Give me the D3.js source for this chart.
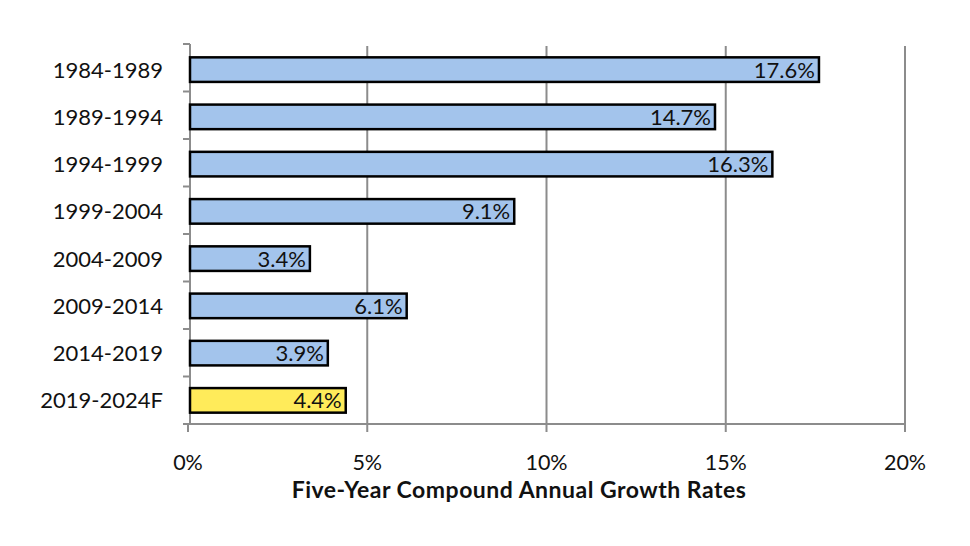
<!DOCTYPE html>
<html>
<head>
<meta charset="utf-8">
<script src="https://cdn.jsdelivr.net/npm/d3@7"></script>
<style>
  body { margin: 0; background: #fff; }
  text { font-family: Lato, "Open Sans", sans-serif; fill: #111; }
</style>
</head>
<body>
<div id="chart"></div>
<script>
var periods = ["1984-1989", "1989-1994", "1994-1999", "1999-2004", "2004-2009", "2009-2014", "2014-2019", "2019-2024F"];
var rates = [17.6, 14.7, 16.3, 9.1, 3.4, 6.1, 3.9, 4.4];
var ticks = [0, 5, 10, 15, 20];
var forecast = "2019-2024F";

var width = 970, height = 546;
var mLeft = 188, mRight = 905, mTop = 46, mBottom = 424;

var svg = d3.select("#chart").append("svg")
    .attr("width", width)
    .attr("height", height);

var x = d3.scaleLinear().domain([0, 20]).range([mLeft, mRight]);
var y = d3.scaleBand().domain(periods).range([mTop, mBottom]).paddingInner(0.48).paddingOuter(0.24);

// gridlines
svg.selectAll(".grid").data(ticks.slice(1)).enter().append("line")
    .attr("x1", function(d){ return x(d); })
    .attr("x2", function(d){ return x(d); })
    .attr("y1", mTop)
    .attr("y2", mBottom + 8)
    .style("stroke", "#8c8c8c")
    .style("stroke-width", 2);

// x axis line + ticks
svg.append("line")
    .attr("x1", mLeft).attr("x2", mRight)
    .attr("y1", mBottom).attr("y2", mBottom)
    .style("stroke", "#8c8c8c").style("stroke-width", 2);
svg.append("line")
    .attr("x1", x(0)).attr("x2", x(0))
    .attr("y1", mBottom).attr("y2", mBottom + 8)
    .style("stroke", "#8c8c8c").style("stroke-width", 2);

svg.selectAll(".xt").data(ticks).enter().append("text")
    .attr("x", function(d){ return x(d); })
    .attr("y", mBottom + 46)
    .attr("text-anchor", "middle")
    .style("font-size", "21.5px")
    .text(function(d){ return d + "%"; });

// axis title sits a bit left of the plot centre, as in the source
svg.append("text")
    .attr("x", 519)
    .attr("y", mBottom + 74)
    .attr("text-anchor", "middle")
    .style("font-size", "23px")
    .style("font-weight", "bold")
    .style("letter-spacing", "0.5px")
    .text("Five-Year Compound Annual Growth Rates");

// y axis with boundary ticks
svg.append("line")
    .attr("x1", mLeft + 2).attr("x2", mLeft + 2)
    .attr("y1", mTop - 2).attr("y2", mBottom)
    .style("stroke", "#8c8c8c").style("stroke-width", 2);
svg.selectAll(".yt").data(d3.range(periods.length + 1)).enter().append("line")
    .attr("x1", mLeft - 5).attr("x2", mLeft + 2)
    .attr("y1", function(i){ return mTop - 2 + i * (mBottom - mTop + 2) / periods.length; })
    .attr("y2", function(i){ return mTop - 2 + i * (mBottom - mTop + 2) / periods.length; })
    .style("stroke", "#8c8c8c").style("stroke-width", 2);

svg.selectAll(".cat").data(periods).enter().append("text")
    .attr("x", mLeft - 25)
    .attr("y", function(d){ return y(d) + y.bandwidth() / 2 + 8; })
    .attr("text-anchor", "end")
    .style("font-size", "22px")
    .text(function(d){ return d; });

// bars
svg.selectAll(".bar").data(rates).enter().append("rect")
    .attr("x", x(0) + 2)
    .attr("y", function(d, i){ return y(periods[i]); })
    .attr("width", function(d){ return x(d) - x(0) - 2; })
    .attr("height", y.bandwidth())
    .style("fill", function(d, i){ return periods[i] === forecast ? "#ffeb5a" : "#a3c4ec"; })
    .style("stroke", "#000")
    .style("stroke-width", 2.5);

svg.selectAll(".lbl").data(rates).enter().append("text")
    .attr("x", function(d){ return x(d) - 4; })
    .attr("y", function(d, i){ return y(periods[i]) + y.bandwidth() / 2 + 8; })
    .attr("text-anchor", "end")
    .style("font-size", "22px")
    .text(function(d){ return d.toFixed(1) + "%"; });
</script>
</body>
</html>
